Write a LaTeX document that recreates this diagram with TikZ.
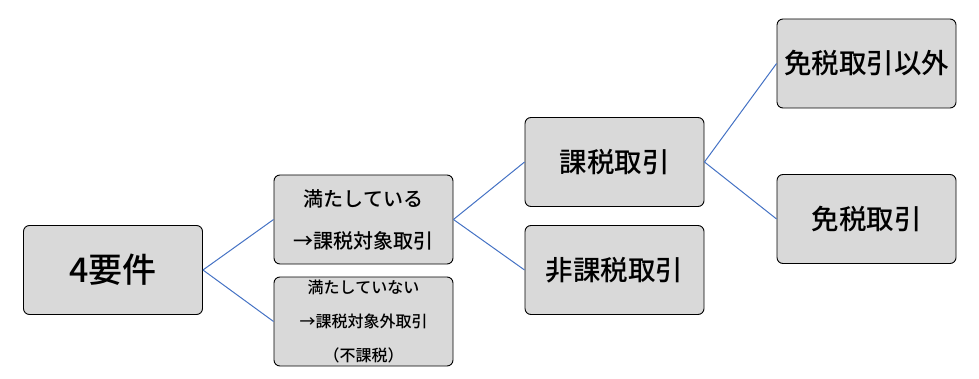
\documentclass[tikz,border=0pt]{standalone}
\usepackage{fontspec}
\setmainfont{Noto Sans CJK JP}
\newfontfamily\jpmed{Noto Sans CJK JP Medium}
\begin{document}
\begin{tikzpicture}[x=1pt,y=-1pt,
  box/.style={draw=black,line width=0.9pt,fill=boxgray,rounded corners=6pt,
    minimum width=179pt,minimum height=89pt,inner sep=0pt,align=center,text=black},
  conn/.style={draw=lineblue,line width=1pt}]
\definecolor{boxgray}{HTML}{D9D9D9}
\definecolor{lineblue}{HTML}{4472C4}
\useasboundingbox (0,0) rectangle (979,379);
\node[box,font=\fontsize{34}{38}\selectfont\jpmed] (req) at (113,270) {4要件};
\node[box,font=\fontsize{20}{42}\selectfont\jpmed] (met) at (363.5,219.5) {満たしている\\→課税対象取引};
\node[box,font=\fontsize{16}{34}\selectfont\jpmed] (notmet) at (363.5,321.5) {満たしていない\\→課税対象外取引\\（不課税）};
\node[box,font=\fontsize{27.5}{30}\selectfont\jpmed] (tax) at (614.5,162) {課税取引};
\node[box,font=\fontsize{27.5}{30}\selectfont\jpmed] (nontax) at (614.5,270) {非課税取引};
\node[box,font=\fontsize{27.5}{30}\selectfont\jpmed] (notexempt) at (866.5,63.5) {免税取引以外};
\node[box,font=\fontsize{27.5}{30}\selectfont\jpmed] (exempt) at (866.5,219) {免税取引};
\draw[conn] (req.east) -- (met.west);
\draw[conn] (req.east) -- (notmet.west);
\draw[conn] (met.east) -- (tax.west);
\draw[conn] (met.east) -- (nontax.west);
\draw[conn] (tax.east) -- (notexempt.west);
\draw[conn] (tax.east) -- (exempt.west);
\end{tikzpicture}
\end{document}
